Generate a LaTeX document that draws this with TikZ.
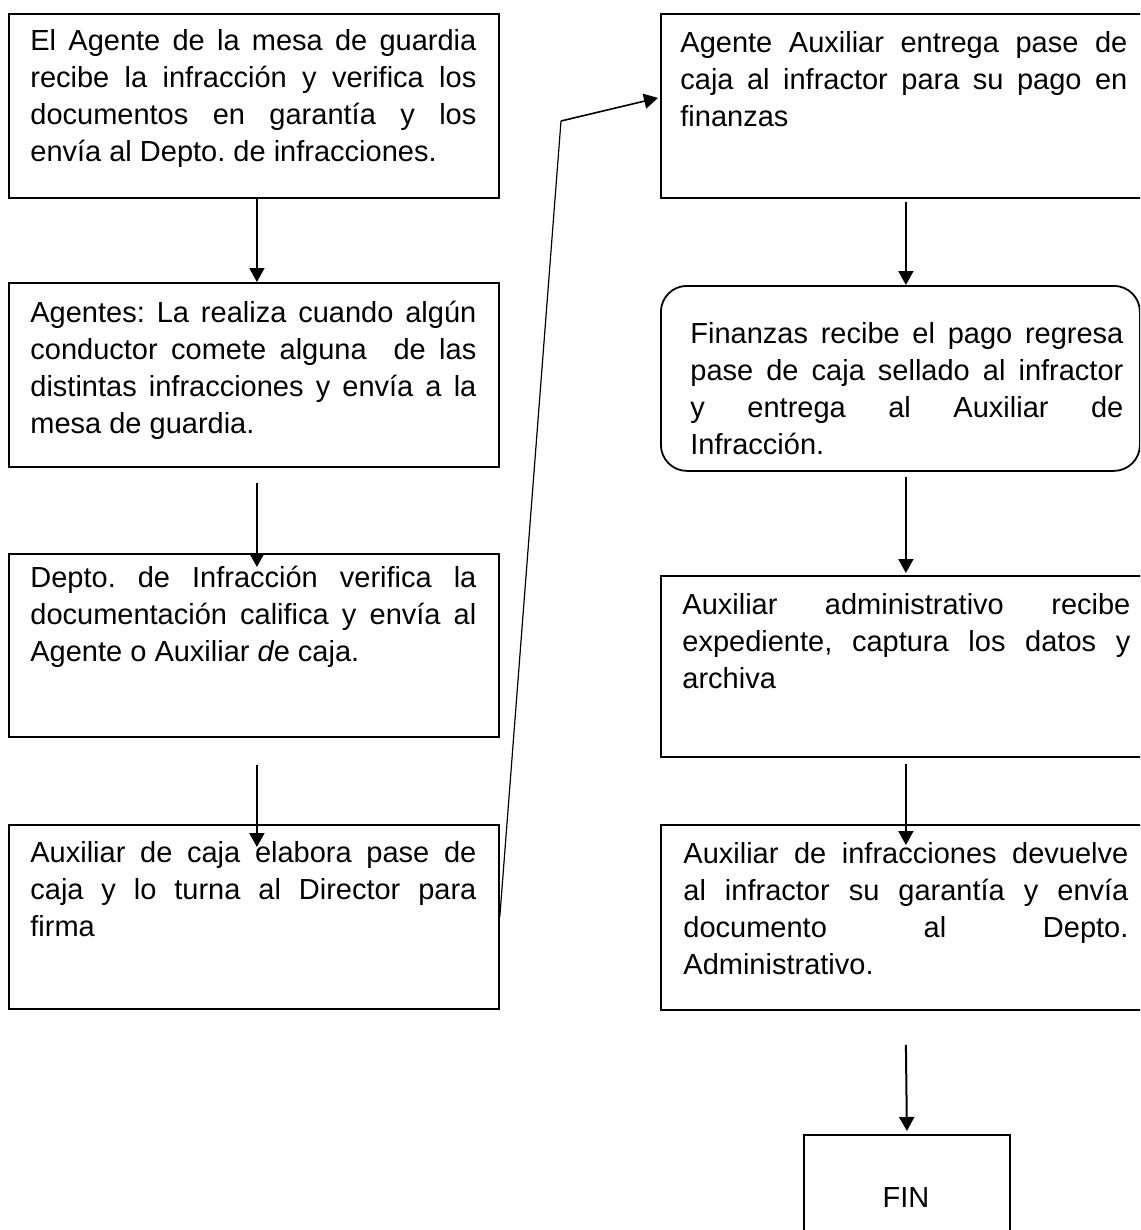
\documentclass[tikz,border=0pt]{standalone}
\usepackage{fontspec}
\setmainfont{Liberation Sans}
\usetikzlibrary{arrows.meta,calc}
\hyphenpenalty=10000
\exhyphenpenalty=10000
\tolerance=10000
\hbadness=10000
\frenchspacing
\setlength{\parindent}{0pt}
\tikzset{
  box/.style={draw=black, line width=0.9pt, inner sep=0pt, anchor=north west},
  txt/.style={anchor=north west, inner sep=0pt, text width=223pt, align=justify,
    font=\fontsize{14.5pt}{18.5pt}\selectfont},
  arr/.style={line width=1pt, -{Triangle[length=7pt,width=7.5pt]}},
  slimline/.style={line width=0.6pt}
}
\begin{document}
\begin{tikzpicture}[x=0.5pt,y=-0.5pt]
\useasboundingbox (0,0) rectangle (1140,1230);
\fill[white] (0,0) rectangle (1140,1230);
\clip (0,0) rectangle (1140,1230);

% left column boxes
\node[box, minimum width=245pt, minimum height=92pt] (b1) at (8,13) {};
\node[box, minimum width=245pt, minimum height=92pt] (b2) at (8,282) {};
\node[box, minimum width=245pt, minimum height=91.5pt] (b3) at (8,553) {};
\node[box, minimum width=245pt, minimum height=92pt] (b4) at (8,824) {};

% right column boxes
\node[box, minimum width=245pt, minimum height=92pt] (b5) at (660,13) {};
\node[box, rounded corners=13pt, minimum width=239.5pt, minimum height=92.5pt] (b6) at (660,285) {};
\node[box, minimum width=245pt, minimum height=90.5pt] (b7) at (660,575) {};
\node[box, minimum width=245pt, minimum height=92.5pt] (b8) at (660,824) {};
\node[box, minimum width=103pt, minimum height=60pt] (fin) at (803,1134) {};

% texts
\node[txt] (t1) at (30,24) {\strut El Agente de la mesa de guardia\linebreak recibe la infracción y verifica los\linebreak documentos en garantía y los\linebreak envía al Depto. de infracciones.};
\node[txt] (t2) at (30,296) {\strut Agentes: La realiza cuando algún\linebreak conductor comete alguna\ \ de las\linebreak distintas infracciones y envía a la\linebreak mesa de guardia.};
\node[txt] (t3) at (30,561) {\strut Depto. de Infracción verifica la\linebreak documentación califica y envía al\linebreak Agente o Auxiliar {\itshape d}e caja.};
\node[txt] (t4) at (30,836) {\strut Auxiliar de caja elabora pase de\linebreak caja y lo turna al Director para\linebreak firma};
\node[txt, text width=223.5pt] (t5) at (680,26) {\strut Agente Auxiliar entrega pase de\linebreak caja al infractor para su pago en\linebreak finanzas};
\node[txt, text width=216.5pt] (t6) at (690,317) {\strut Finanzas recibe el pago regresa\linebreak pase de caja sellado al infractor\linebreak y entrega al Auxiliar de\linebreak Infracción.};
\node[txt, text width=224pt] (t7) at (682,588) {\strut Auxiliar administrativo recibe\linebreak expediente, captura los datos y\linebreak archiva};
\node[txt, text width=222.5pt] (t8) at (683,837) {\strut Auxiliar de infracciones devuelve\linebreak al infractor su garantía y envía\linebreak documento al Depto.\linebreak Administrativo.};
\node[anchor=base, inner sep=0pt, font=\fontsize{14.5pt}{18.5pt}\selectfont] (tfin) at (906,1207) {FIN};

% connectors left column
\draw[arr] ($(b1.south)+(3,0)$) -- ($(b2.north)+(3,0)$);
\draw[arr] ($(b2.south)+(3,15)$) -- ($(b3.north)+(3,14)$);
\draw[arr] ($(b3.south)+(3,27)$) -- ($(b4.north)+(3,23)$);

% long connector
\coordinate (bend) at (561,121);
\draw[slimline] (b4.east) -- (bend);
\draw[arr, line width=0.8pt] (bend) -- ($(b5.west)+(-2,-8)$);

% connectors right column
\draw[arr] ($(b5.south)+(0,3)$) -- (b6.north -| b5.south);
\draw[arr] ($(b6.south -| b7.north)+(0,5)$) -- ($(b7.north)+(0,-2)$);
\draw[arr] ($(b7.south)+(0,6)$) -- ($(b8.north)+(0,21)$);
\draw[arr] ($(b8.south)+(0,34)$) -- ($(fin.north)+(0,-3)$);
\end{tikzpicture}
\end{document}
